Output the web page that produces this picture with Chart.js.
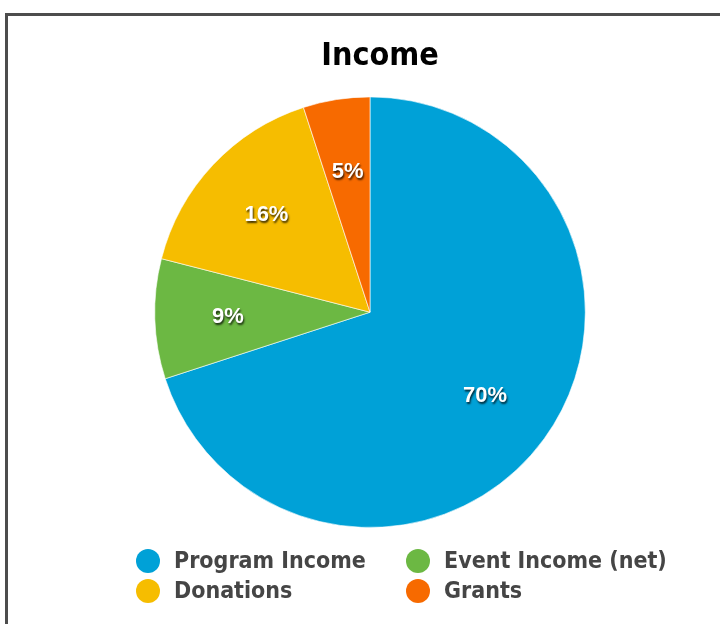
<!DOCTYPE html>
<html>
<head>
<meta charset="utf-8">
<script src="https://cdn.jsdelivr.net/npm/chart.js@4.4.0/dist/chart.umd.min.js"></script>
<style>
  html, body { margin: 0; padding: 0; width: 720px; height: 624px; overflow: hidden; background: #fff; }
  #frame { position: absolute; left: 5px; top: 13px; width: 800px; height: 700px; border: 3px solid #4d4d4d; }
  #wrap { position: absolute; left: 0; top: 0; width: 720px; height: 624px; }
</style>
</head>
<body>
<div id="frame"></div>
<div id="wrap"><canvas id="incomeChart" width="720" height="624"></canvas></div>
<script>
// values (percent of income)
const categories = ['Program Income', 'Event Income (net)', 'Donations', 'Grants'];
const shares = [70, 9, 16, 5];
const sliceColors = ['#00a1d7', '#6cb843', '#f6bd00', '#f76a00'];

const condensed = '"Liberation Sans Narrow", "DejaVu Sans Condensed", "Roboto Condensed", sans-serif';

// percent labels inside the slices, white with a dark drop shadow
const sliceLabels = {
  id: 'sliceLabels',
  afterDatasetsDraw(chart) {
    const ctx = chart.ctx;
    const meta = chart.getDatasetMeta(0);
    ctx.save();
    ctx.font = 'bold 22px "Liberation Sans", Arial, sans-serif';
    ctx.textAlign = 'center';
    ctx.textBaseline = 'middle';
    meta.data.forEach((arc, i) => {
      const mid = (arc.startAngle + arc.endAngle) / 2;
      const r = arc.outerRadius * 0.66;
      const x = arc.x + Math.cos(mid) * r;
      const y = arc.y + Math.sin(mid) * r;
      ctx.shadowColor = 'rgba(0,0,0,0.75)';
      ctx.shadowOffsetX = 1;
      ctx.shadowOffsetY = 2;
      ctx.shadowBlur = 2;
      ctx.fillStyle = '#fff';
      ctx.fillText(shares[i] + '%', x, y);
    });
    ctx.restore();
  }
};

// two-column legend under the pie
const gridLegend = {
  id: 'gridLegend',
  afterDraw(chart) {
    const ctx = chart.ctx;
    const colX = [148, 418];
    const rowY = [561, 591];
    ctx.save();
    ctx.font = 'bold 23px ' + condensed;
    ctx.textBaseline = 'middle';
    chart.data.labels.forEach((lab, i) => {
      const cx = colX[i % 2];
      const cy = rowY[Math.floor(i / 2)];
      ctx.beginPath();
      ctx.arc(cx, cy, 12, 0, Math.PI * 2);
      ctx.fillStyle = chart.data.datasets[0].backgroundColor[i];
      ctx.fill();
      ctx.fillStyle = '#454545';
      ctx.fillText(lab, cx + 26, cy + 1);
    });
    ctx.restore();
  }
};

new Chart(document.getElementById('incomeChart'), {
  type: 'pie',
  data: {
    labels: categories,
    datasets: [{
      data: shares,
      backgroundColor: sliceColors,
      borderColor: 'rgba(255,255,255,0.6)',
      borderWidth: 1
    }]
  },
  options: {
    responsive: false,
    animation: false,
    layout: { padding: { top: 0, bottom: 96, left: 140, right: 120 } },
    plugins: {
      legend: { display: false },
      tooltip: { enabled: false },
      title: {
        display: true,
        text: '\u2002\u2009Income',
        color: '#000',
        font: { family: condensed, size: 32, weight: 'bold' },
        padding: { top: 37, bottom: 21 }
      }
    }
  },
  plugins: [sliceLabels, gridLegend]
});
</script>
</body>
</html>
